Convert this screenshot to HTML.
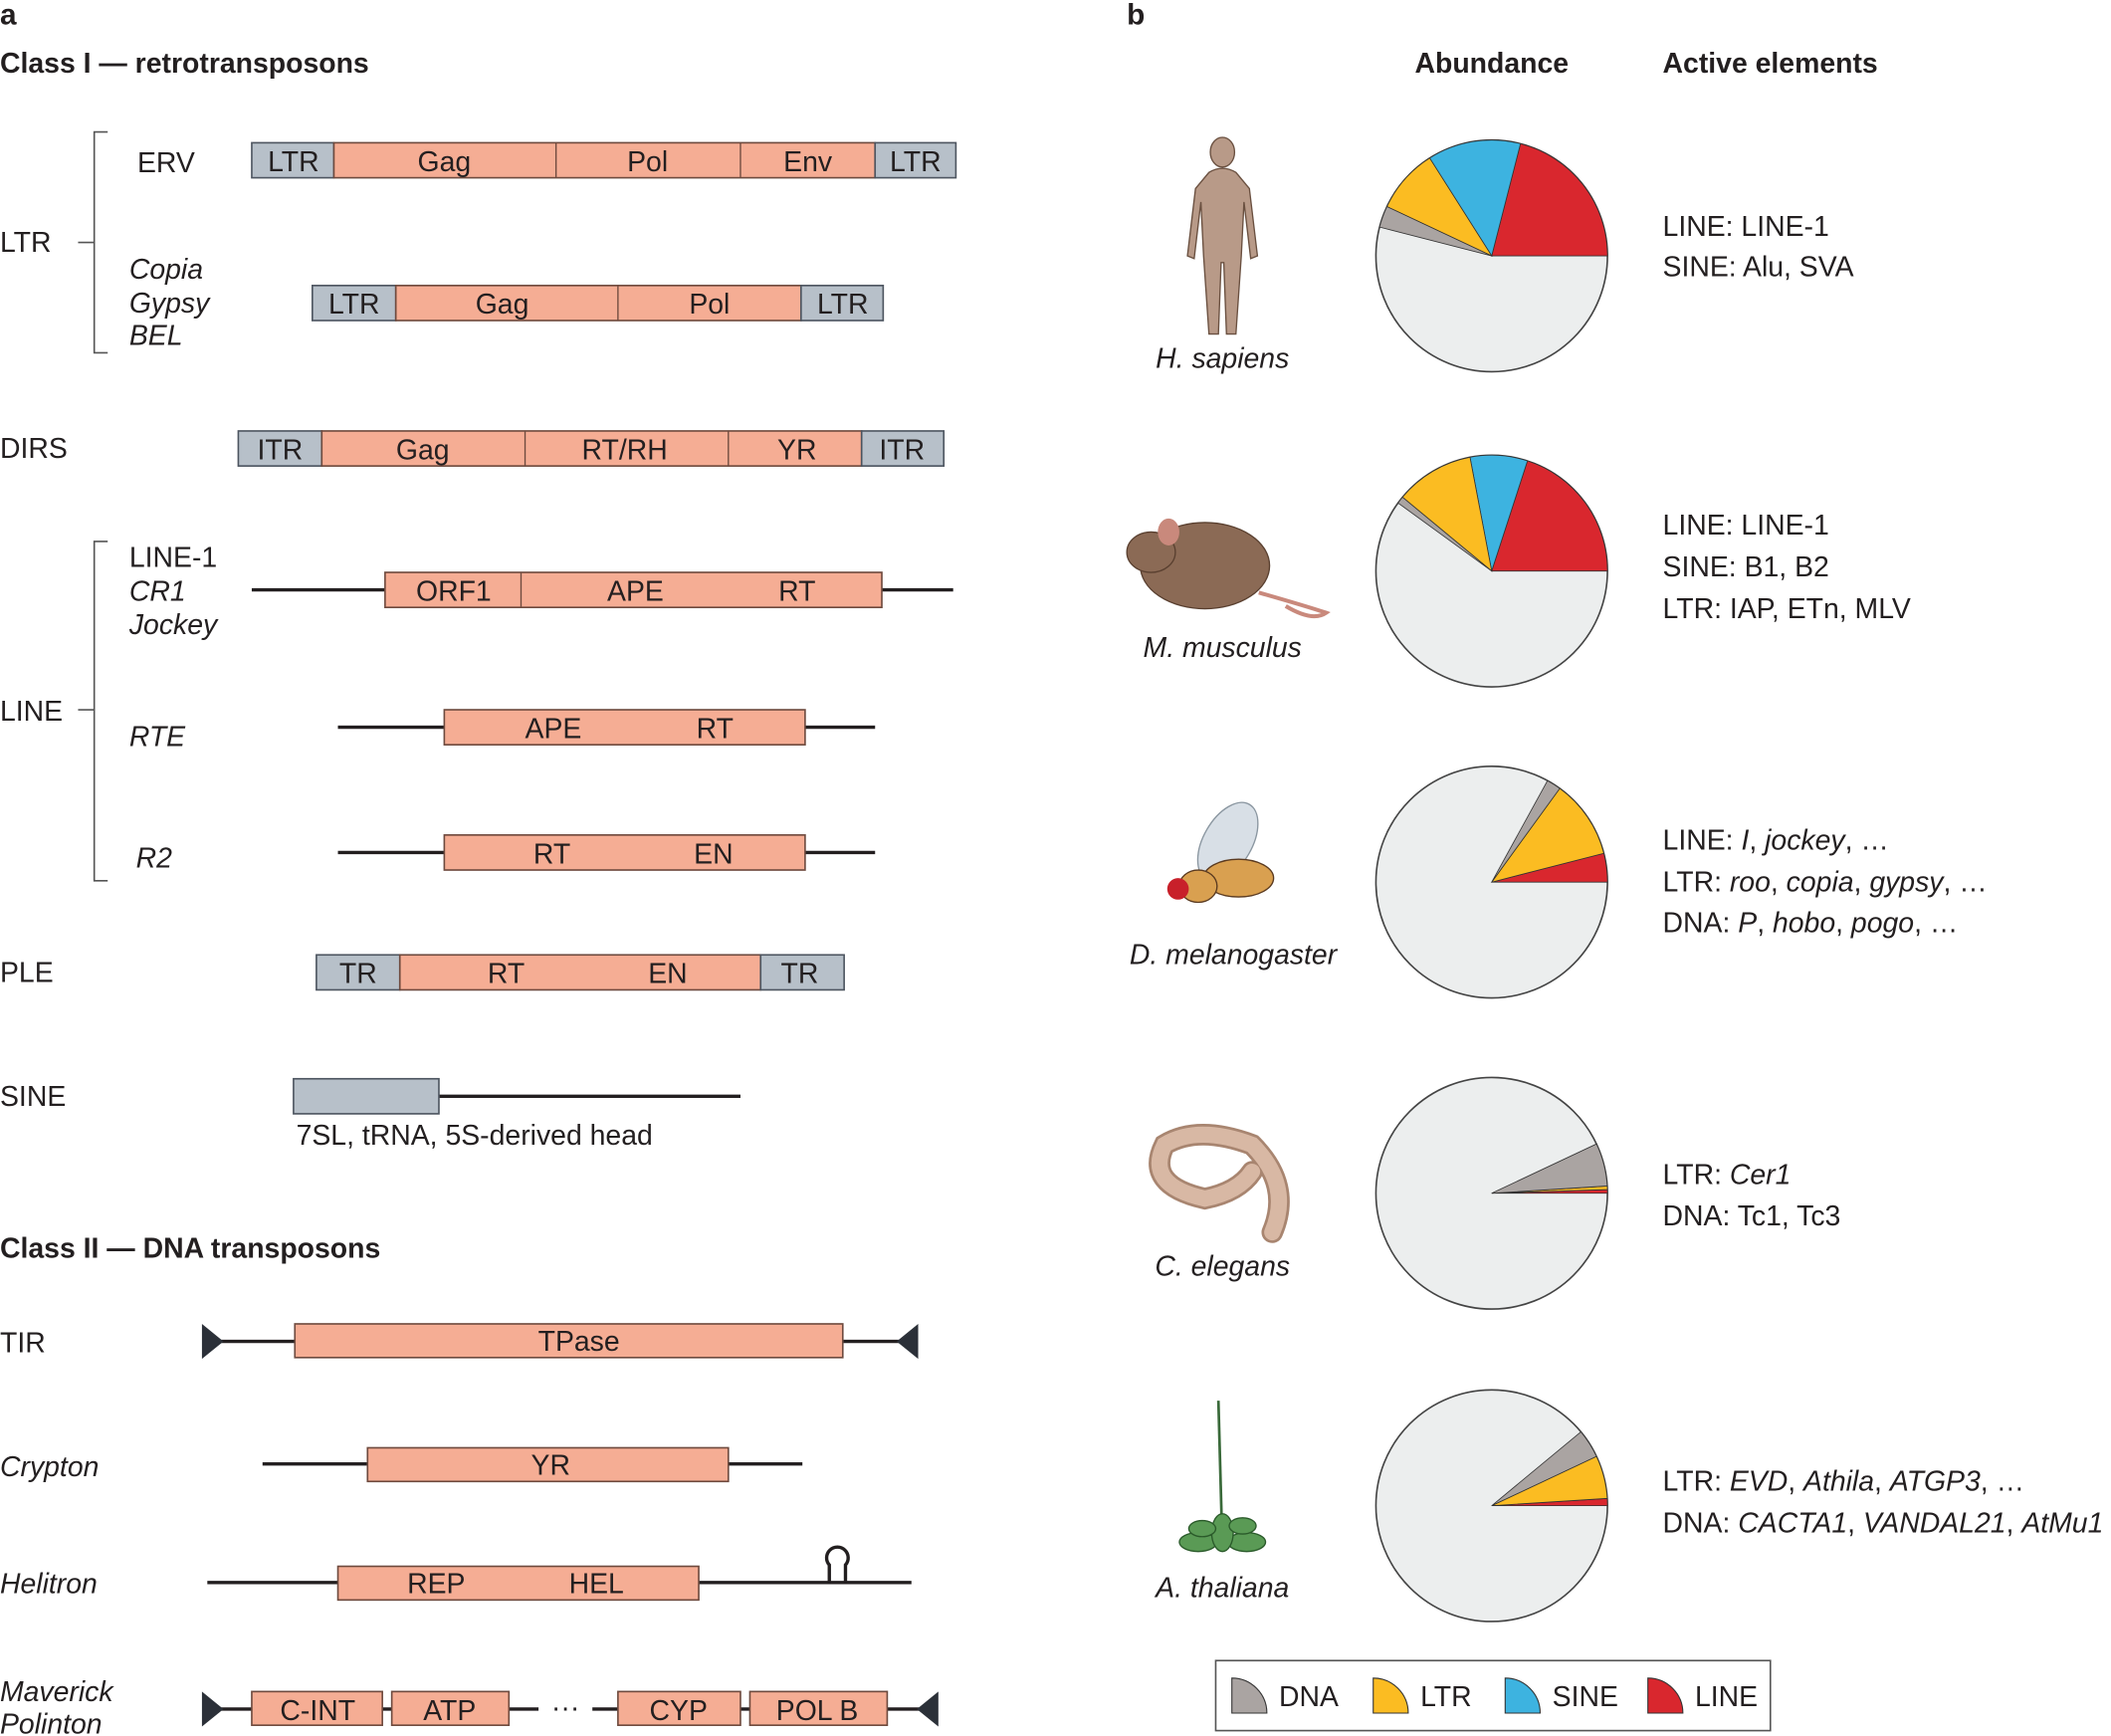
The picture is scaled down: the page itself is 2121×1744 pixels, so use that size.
<!DOCTYPE html>
<html><head><meta charset="utf-8"><style>
html,body{margin:0;padding:0;background:#fff;}
svg{display:block;}
text{font-family:"Liberation Sans",sans-serif;fill:#231f20;}
.b{font-weight:bold;}
.l{font-size:21px;}
.i{font-style:italic;}
.box{fill:#f5ad94;stroke:#6e4a3e;stroke-width:1.2;}
.gb{fill:#b7c0c9;stroke:#4d5560;stroke-width:1.2;}
.ln{stroke:#231f20;stroke-width:2.5;}
.bt{font-size:21px;text-anchor:middle;}
</style></head><body>
<svg id="fig" width="2121" height="1744" viewBox="0 0 1568 1289" preserveAspectRatio="none">
<g>
<text x="0" y="18" class="b" font-size="22">a</text>
<text x="0" y="54" class="b" font-size="21">Class I — retrotransposons</text>
<!-- LTR bracket -->
<path d="M80 98 H70 V262 H80 M58 180 H70" fill="none" stroke="#555" stroke-width="1.2"/>
<text x="0" y="187" class="l">LTR</text>
<text x="102" y="128" class="l">ERV</text>
<g>
<rect x="187" y="106" width="61" height="26" class="gb"/><rect x="248" y="106" width="402" height="26" class="box"/>
<line x1="413" y1="106" x2="413" y2="132" stroke="#6e4a3e"/><line x1="550" y1="106" x2="550" y2="132" stroke="#6e4a3e"/>
<rect x="650" y="106" width="60" height="26" class="gb"/>
<text x="218" y="127" class="bt">LTR</text><text x="330" y="127" class="bt">Gag</text><text x="481" y="127" class="bt">Pol</text><text x="600" y="127" class="bt">Env</text><text x="680" y="127" class="bt">LTR</text>
</g>
<text x="96" y="207" class="l i">Copia</text><text x="96" y="232" class="l i">Gypsy</text><text x="96" y="256" class="l i">BEL</text>
<g>
<rect x="232" y="212" width="62" height="26" class="gb"/><rect x="294" y="212" width="301" height="26" class="box"/>
<line x1="459" y1="212" x2="459" y2="238" stroke="#6e4a3e"/>
<rect x="595" y="212" width="61" height="26" class="gb"/>
<text x="263" y="233" class="bt">LTR</text><text x="373" y="233" class="bt">Gag</text><text x="527" y="233" class="bt">Pol</text><text x="626" y="233" class="bt">LTR</text>
</g>
<text x="0" y="340" class="l">DIRS</text>
<g>
<rect x="177" y="320" width="62" height="26" class="gb"/><rect x="239" y="320" width="401" height="26" class="box"/>
<line x1="390" y1="320" x2="390" y2="346" stroke="#6e4a3e"/><line x1="541" y1="320" x2="541" y2="346" stroke="#6e4a3e"/>
<rect x="640" y="320" width="61" height="26" class="gb"/>
<text x="208" y="341" class="bt">ITR</text><text x="314" y="341" class="bt">Gag</text><text x="464" y="341" class="bt">RT/RH</text><text x="592" y="341" class="bt">YR</text><text x="670" y="341" class="bt">ITR</text>
</g>
<path d="M80 402 H70 V654 H80 M58 527 H70" fill="none" stroke="#555" stroke-width="1.2"/>
<text x="0" y="535" class="l">LINE</text>
<text x="96" y="421" class="l">LINE-1</text><text x="96" y="446" class="l i">CR1</text><text x="96" y="471" class="l i">Jockey</text>
<g>
<line x1="187" y1="438" x2="708" y2="438" class="ln"/>
<rect x="286" y="425" width="369" height="26" class="box"/><line x1="387" y1="425" x2="387" y2="451" stroke="#6e4a3e"/>
<text x="337" y="446" class="bt">ORF1</text><text x="472" y="446" class="bt">APE</text><text x="592" y="446" class="bt">RT</text>
</g>
<text x="96" y="554" class="l i">RTE</text>
<g>
<line x1="251" y1="540" x2="650" y2="540" class="ln"/><rect x="330" y="527" width="268" height="26" class="box"/>
<text x="411" y="548" class="bt">APE</text><text x="531" y="548" class="bt">RT</text>
</g>
<text x="101" y="644" class="l i">R2</text>
<g>
<line x1="251" y1="633" x2="650" y2="633" class="ln"/><rect x="330" y="620" width="268" height="26" class="box"/>
<text x="410" y="641" class="bt">RT</text><text x="530" y="641" class="bt">EN</text>
</g>
<text x="0" y="729" class="l">PLE</text>
<g>
<rect x="235" y="709" width="62" height="26" class="gb"/><rect x="297" y="709" width="268" height="26" class="box"/><rect x="565" y="709" width="62" height="26" class="gb"/>
<text x="266" y="730" class="bt">TR</text><text x="376" y="730" class="bt">RT</text><text x="496" y="730" class="bt">EN</text><text x="594" y="730" class="bt">TR</text>
</g>
<text x="0" y="821" class="l">SINE</text>
<g>
<line x1="326" y1="814" x2="550" y2="814" class="ln"/><rect x="218" y="801" width="108" height="26" class="gb"/>
<text x="220" y="850" class="l">7SL, tRNA, 5S-derived head</text>
</g>
<text x="0" y="934" class="b" font-size="21">Class II — DNA transposons</text>
<text x="0" y="1004" class="l">TIR</text>
<g>
<line x1="152" y1="996" x2="680" y2="996" class="ln"/><rect x="219" y="983" width="407" height="25" class="box"/>
<polygon points="150,983 150,1009 166,996" fill="#2b3038"/><polygon points="682,983 682,1009 666,996" fill="#2b3038"/>
<text x="430" y="1003" class="bt">TPase</text>
</g>
<text x="0" y="1096" class="l i">Crypton</text>
<g>
<line x1="195" y1="1087" x2="596" y2="1087" class="ln"/><rect x="273" y="1075" width="268" height="25" class="box"/>
<text x="409" y="1095" class="bt">YR</text>
</g>
<text x="0" y="1183" class="l i">Helitron</text>
<g>
<line x1="154" y1="1175" x2="677" y2="1175" class="ln"/><rect x="251" y="1163" width="268" height="25" class="box"/>
<path d="M616 1175 V1162 A8 8 0 1 1 628 1162 V1175" fill="none" stroke="#231f20" stroke-width="2.5"/>
<text x="324" y="1183" class="bt">REP</text><text x="443" y="1183" class="bt">HEL</text>
</g>
<text x="0" y="1263" class="l i">Maverick</text><text x="0" y="1287" class="l i">Polinton</text>
<g>
<line x1="152" y1="1269" x2="400" y2="1269" class="ln"/><line x1="440" y1="1269" x2="695" y2="1269" class="ln"/>
<rect x="187" y="1256" width="97" height="25" class="box"/><rect x="291" y="1256" width="87" height="25" class="box"/>
<rect x="459" y="1256" width="91" height="25" class="box"/><rect x="557" y="1256" width="102" height="25" class="box"/>
<polygon points="150,1256 150,1282 166,1269" fill="#2b3038"/><polygon points="697,1256 697,1282 681,1269" fill="#2b3038"/>
<text x="236" y="1277" class="bt">C-INT</text><text x="334" y="1277" class="bt">ATP</text><text x="420" y="1275" class="bt">···</text><text x="504" y="1277" class="bt">CYP</text><text x="607" y="1277" class="bt">POL B</text>
</g>
</g>
<g>
<text x="837" y="18" class="b" font-size="22">b</text>
<text x="1108" y="54" class="b" font-size="21" text-anchor="middle">Abundance</text>
<text x="1235" y="54" class="b" font-size="21">Active elements</text>
<!-- organisms -->
<g fill="#b89a88" stroke="#6a5040" stroke-width="1">
<ellipse cx="908" cy="113" rx="9" ry="11"/>
<path d="M898 128 Q908 122 918 128 L928 140 L934 190 L929 192 L924 150 L922 190 L918 248 L911 248 L909 195 L907 195 L905 248 L898 248 L894 190 L892 150 L887 192 L882 190 L888 140 Z"/>
</g>
<text x="908" y="273" class="l i" text-anchor="middle">H. sapiens</text>
<g>
<path d="M935 440 Q970 450 985 455 Q975 462 955 450" fill="none" stroke="#c9897c" stroke-width="3"/>
<ellipse cx="895" cy="420" rx="48" ry="32" fill="#8b6a55" stroke="#5a4030"/>
<ellipse cx="855" cy="410" rx="18" ry="15" fill="#8b6a55" stroke="#5a4030"/>
<ellipse cx="868" cy="395" rx="8" ry="10" fill="#c9897c"/>
</g>
<text x="908" y="488" class="l i" text-anchor="middle">M. musculus</text>
<g>
<ellipse cx="912" cy="625" rx="18" ry="32" fill="#d8dfe6" stroke="#8a96a0" transform="rotate(30 912 625)"/>
<ellipse cx="920" cy="652" rx="26" ry="14" fill="#d9a050" stroke="#5a3a20"/>
<ellipse cx="890" cy="658" rx="14" ry="12" fill="#d9a050" stroke="#5a3a20"/>
<circle cx="875" cy="660" r="8" fill="#c8202a"/>
</g>
<text x="916" y="716" class="l i" text-anchor="middle">D. melanogaster</text>
<g>
<path d="M945 915 Q960 880 930 850 Q890 835 865 850 Q850 880 895 890 Q920 885 930 870" fill="none" stroke="#a88570" stroke-width="16" stroke-linecap="round"/>
<path d="M945 915 Q960 880 930 850 Q890 835 865 850 Q850 880 895 890 Q920 885 930 870" fill="none" stroke="#d8b8a4" stroke-width="12" stroke-linecap="round"/>
</g>
<text x="908" y="947" class="l i" text-anchor="middle">C. elegans</text>
<g fill="#5a9a55" stroke="#2a5a2a">
<line x1="908" y1="1150" x2="905" y2="1040" stroke="#3a6a3a" stroke-width="2"/>
<ellipse cx="890" cy="1145" rx="14" ry="7"/><ellipse cx="926" cy="1145" rx="14" ry="7"/><ellipse cx="908" cy="1138" rx="8" ry="14"/>
<ellipse cx="893" cy="1135" rx="10" ry="6"/><ellipse cx="923" cy="1133" rx="10" ry="6"/>
</g>
<text x="908" y="1186" class="l i" text-anchor="middle">A. thaliana</text>
<g id="pies"></g>
<g>
<text x="1235" y="175" class="l">LINE: LINE-1</text><text x="1235" y="205" class="l">SINE: Alu, SVA</text>
<text x="1235" y="397" class="l">LINE: LINE-1</text><text x="1235" y="428" class="l">SINE: B1, B2</text><text x="1235" y="459" class="l">LTR: IAP, ETn, MLV</text>
<text x="1235" y="631" class="l">LINE: <tspan class="i">I</tspan>, <tspan class="i">jockey</tspan>, …</text>
<text x="1235" y="662" class="l">LTR: <tspan class="i">roo</tspan>, <tspan class="i">copia</tspan>, <tspan class="i">gypsy</tspan>, …</text>
<text x="1235" y="692" class="l">DNA: <tspan class="i">P</tspan>, <tspan class="i">hobo</tspan>, <tspan class="i">pogo</tspan>, …</text>
<text x="1235" y="879" class="l">LTR: <tspan class="i">Cer1</tspan></text><text x="1235" y="910" class="l">DNA: Tc1, Tc3</text>
<text x="1235" y="1107" class="l">LTR: <tspan class="i">EVD</tspan>, <tspan class="i">Athila</tspan>, <tspan class="i">ATGP3</tspan>, …</text>
<text x="1235" y="1138" class="l">DNA: <tspan class="i">CACTA1</tspan>, <tspan class="i">VANDAL21</tspan>, <tspan class="i">AtMu1</tspan></text>
</g>
<g>
<rect x="903" y="1233" width="412" height="52" fill="#fff" stroke="#555" stroke-width="1.2"/>
<g id="legend-items"></g>
</g>
</g>
<script>
const organisms=["H. sapiens","M. musculus","D. melanogaster","C. elegans","A. thaliana"];
const categories=["LINE","SINE","LTR","DNA"];
const lineVals=[21,20,4,0.5,1];
const sineVals=[13,8,0,0,0];
const ltrVals=[9,11,11,0.5,6];
const dnaVals=[3,1,2,6,4];
const colors={LINE:"#d9272e",SINE:"#3db3e0",LTR:"#fbbc22",DNA:"#aaa4a2"};
const ns="http://www.w3.org/2000/svg";
const cx=1108, cys=[190,424,655,886,1118], R=86;
function ang(p){return p/100*2*Math.PI;}
function pt(a,r,cy){return [cx+r*Math.cos(a),cy-r*Math.sin(a)];}
function wedge(a0,a1,cy,r){const p0=pt(a0,r,cy),p1=pt(a1,r,cy);const lg=(a1-a0)>Math.PI?1:0;return `M${cx} ${cy} L${p0[0]} ${p0[1]} A${r} ${r} 0 ${lg} 0 ${p1[0]} ${p1[1]} Z`;}
const pies=document.getElementById('pies');
organisms.forEach((o,i)=>{
  const cy=cys[i];
  const bg=document.createElementNS(ns,'circle');
  bg.setAttribute('cx',cx);bg.setAttribute('cy',cy);bg.setAttribute('r',R);
  bg.setAttribute('fill','#eceeee');bg.setAttribute('stroke','#444');bg.setAttribute('stroke-width','1.2');
  
  
  pies.appendChild(bg);
  const vals=[lineVals[i],sineVals[i],ltrVals[i],dnaVals[i]];
  let a=0;
  vals.forEach((v,k)=>{
    if(v<=0)return;
    const a1=a+ang(v);
    const p=document.createElementNS(ns,'path');
    p.setAttribute('d',wedge(a,a1,cy,R));
    p.setAttribute('fill',colors[categories[k]]);
    p.setAttribute('stroke','#333');p.setAttribute('stroke-width','0.6');
    
    
    pies.appendChild(p);
    a=a1;
  });
});
const leg=document.getElementById('legend-items');
const legOrder=["DNA","LTR","SINE","LINE"];
const legX=[915,1020,1118,1224];
legOrder.forEach((c,k)=>{
  const x=legX[k], y=1272;
  const p=document.createElementNS(ns,'path');
  p.setAttribute('d',`M${x} ${y} L${x+26} ${y} A26 26 0 0 0 ${x} ${y-26} Z`);
  p.setAttribute('fill',colors[c]);p.setAttribute('stroke','#333');p.setAttribute('stroke-width','0.8');
  
  
  leg.appendChild(p);
  const t=document.createElementNS(ns,'text');
  t.setAttribute('x',x+35);t.setAttribute('y',1267);t.setAttribute('font-size','21');
  t.textContent=c;
  
  
  leg.appendChild(t);
});
</script>
</svg>
</body></html>
